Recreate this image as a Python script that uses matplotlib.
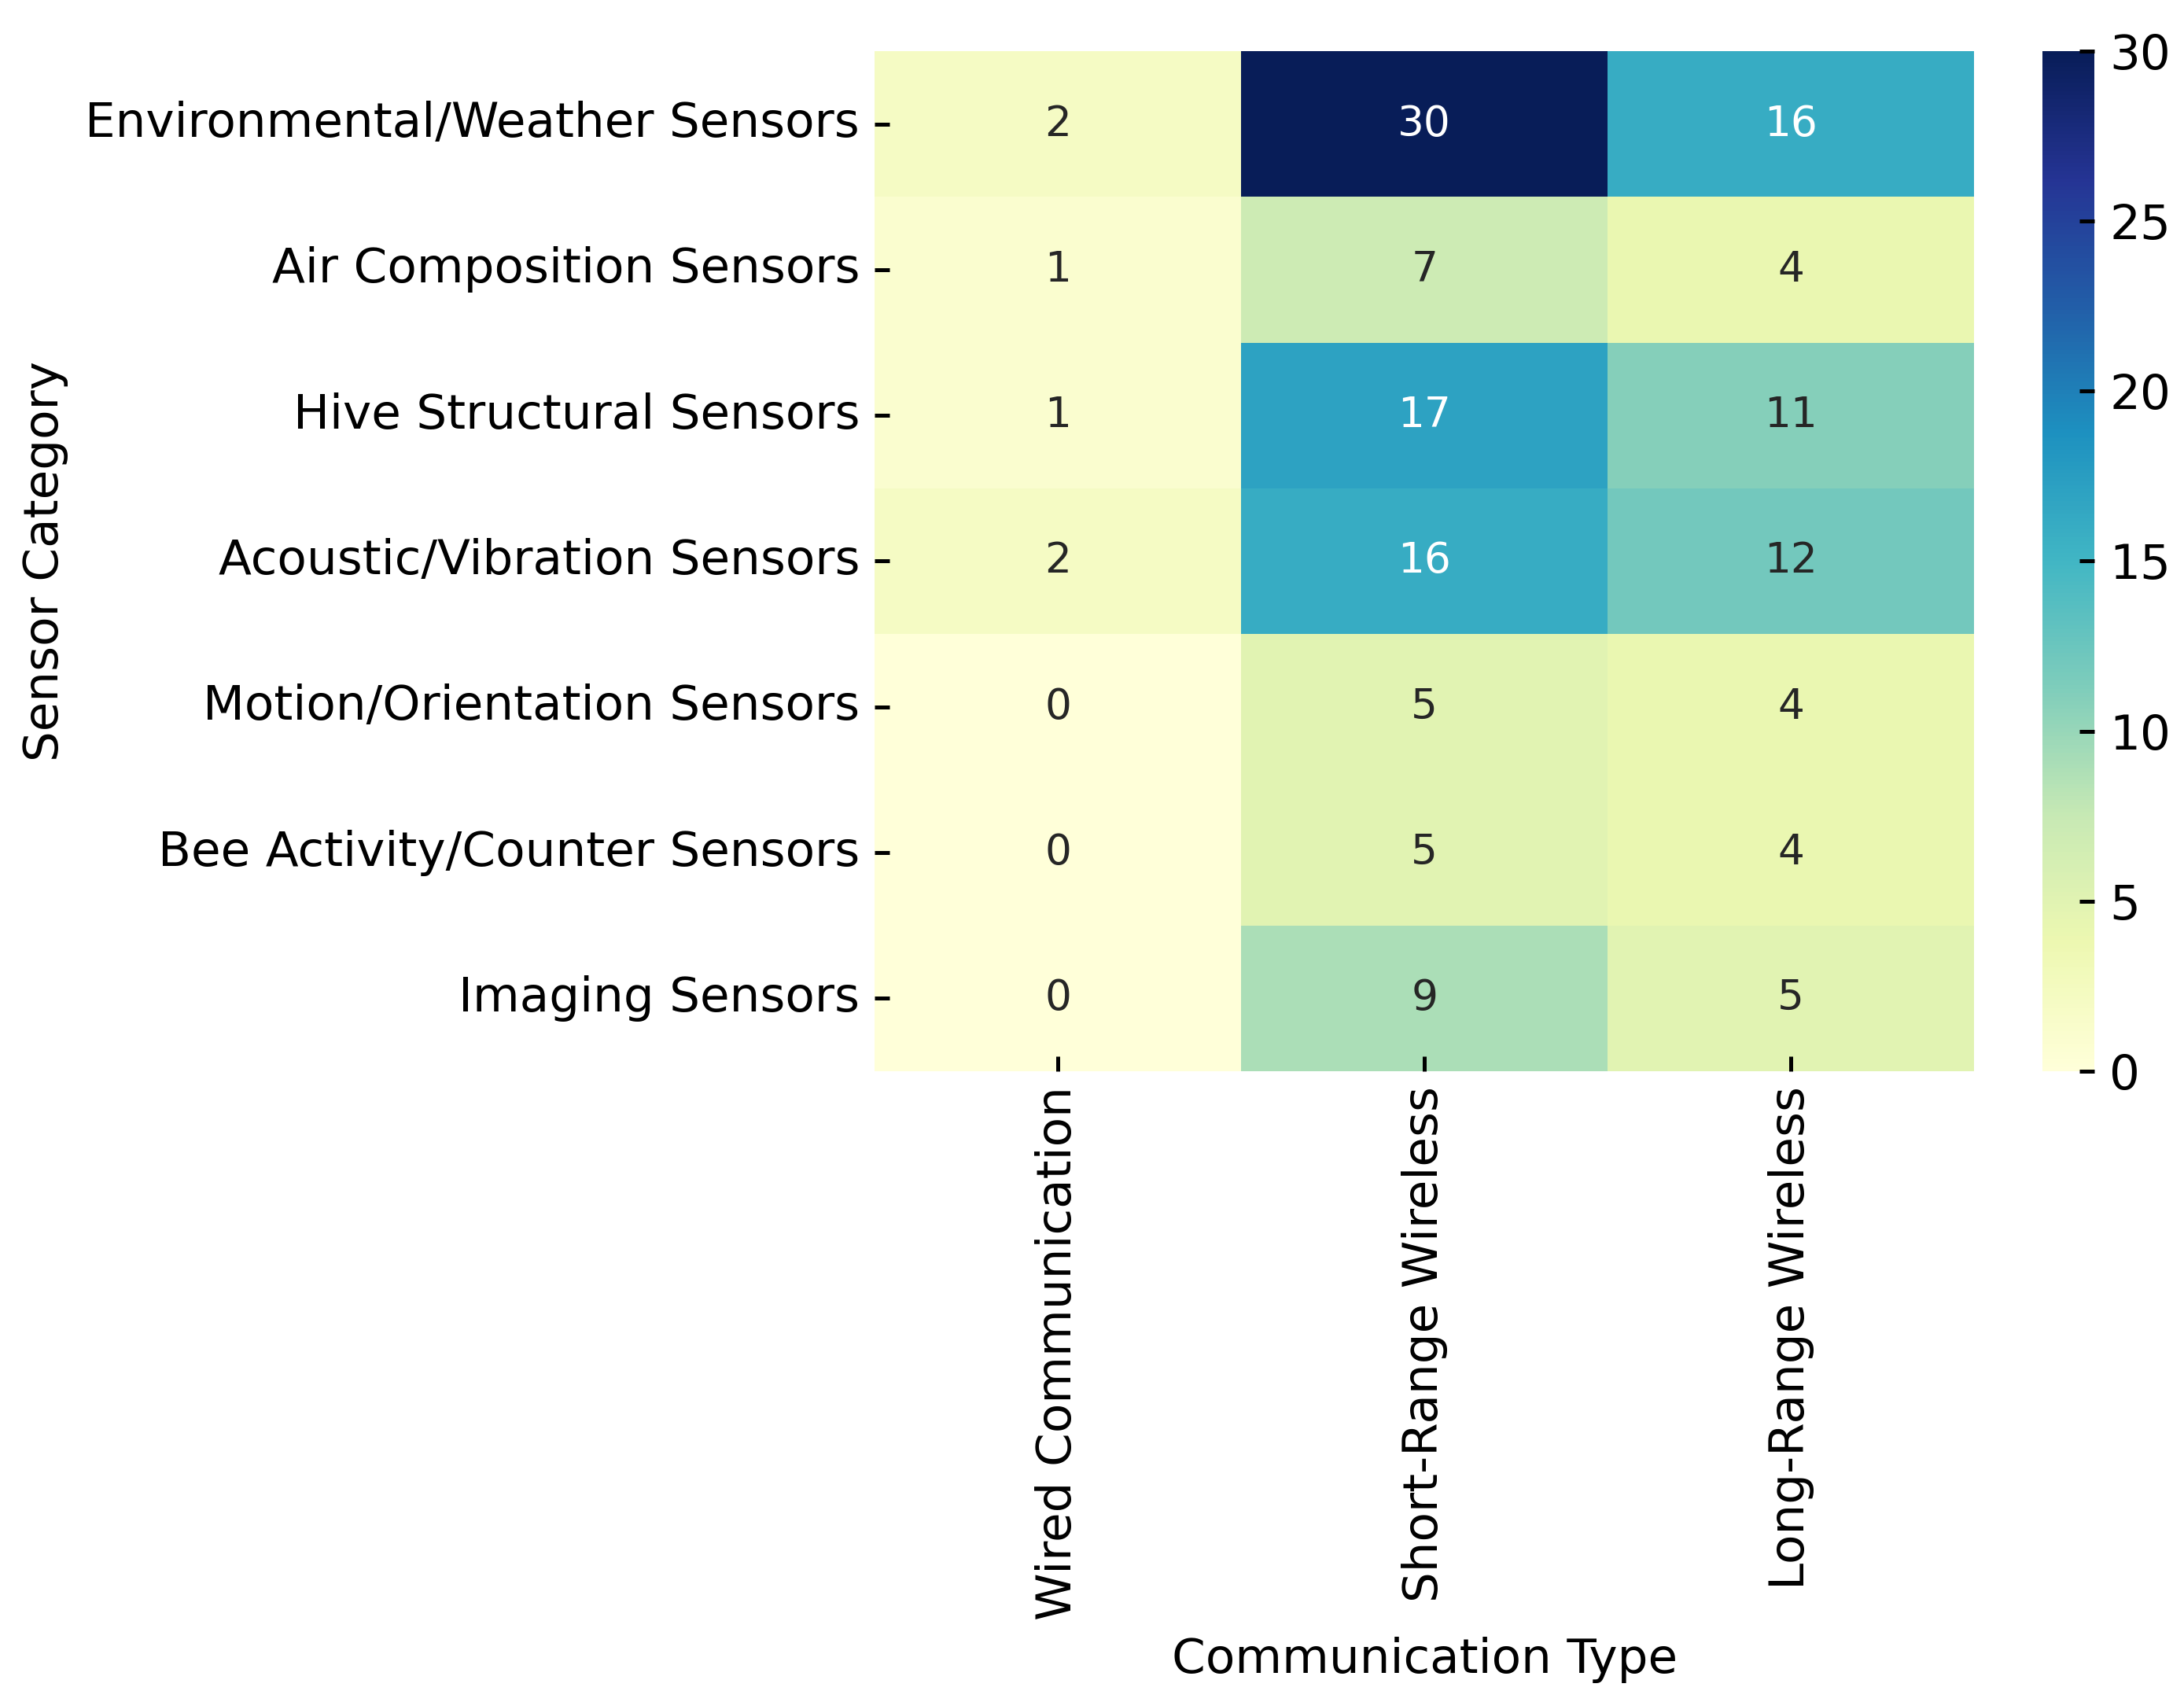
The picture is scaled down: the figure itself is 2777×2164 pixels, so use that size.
import numpy as np
import pandas as pd
import seaborn as sns
import matplotlib.pyplot as plt

categories = ['Environmental/Weather Sensors', 'Air Composition Sensors',
              'Hive Structural Sensors', 'Acoustic/Vibration Sensors',
              'Motion/Orientation Sensors', 'Bee Activity/Counter Sensors',
              'Imaging Sensors']
comm_types = ['Wired Communication', 'Short-Range Wireless', 'Long-Range Wireless']

wired = [2, 1, 1, 2, 0, 0, 0]
short_range = [30, 7, 17, 16, 5, 5, 9]
long_range = [16, 4, 11, 12, 4, 4, 5]

df = pd.DataFrame({comm_types[0]: wired,
                   comm_types[1]: short_range,
                   comm_types[2]: long_range}, index=categories)

fs = 14.7
plt.rcParams['font.size'] = fs
fig = plt.figure(figsize=(2777 / 300, 2164 / 300), dpi=300)
ax = fig.add_axes([0.4005, 0.3706, 0.5034, 0.5994])
cax = fig.add_axes([0.9352, 0.3706, 0.0238, 0.5994])
sns.heatmap(df, annot=True, fmt='d', cmap='YlGnBu', vmin=0, vmax=30, ax=ax,
            cbar_ax=cax, annot_kws={'fontsize': 12.8})
ax.set_xlabel('Communication Type', fontsize=fs, labelpad=5)
ax.set_ylabel('Sensor Category', fontsize=fs, labelpad=5)
ax.tick_params(labelsize=fs, direction='in', length=4.6, width=1.2, pad=4.6)
cax.tick_params(labelsize=fs, direction='in', length=4.6, width=1.2, pad=4.6)
ax.set_xticklabels(ax.get_xticklabels(), rotation=90)
ax.set_yticklabels(ax.get_yticklabels(), rotation=0)
plt.savefig('out.png', dpi=300)
